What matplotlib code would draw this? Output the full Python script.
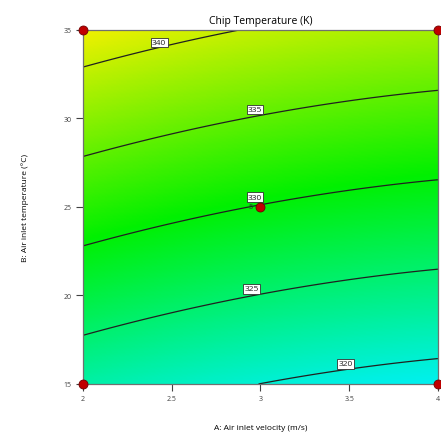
import numpy as np
import matplotlib
matplotlib.use("Agg")
import matplotlib.pyplot as plt
from matplotlib.colors import ListedColormap, Normalize, hsv_to_rgb

# Response surface model: T = c0 + c1*A + c2*A^2 + c3*B
coef = [314.73, -4.55, 0.45, 0.99]
contour_levels = [320, 325, 330, 335, 340]
label_A = [3.48, 2.95, 2.97, 2.97, 2.43]
label_B = [16.13, 20.37, 25.55, 30.5, 34.3]
design_A = [2, 4, 2, 4, 3]
design_B = [15, 15, 35, 35, 25]
center_count = "5"
x_ticks = [2, 2.5, 3, 3.5, 4]
x_tick_labels = ['2', '2.5', '3', '3.5', '4']
y_ticks = [15, 20, 25, 30, 35]

plt.rcParams['font.family'] = ['Open Sans', 'DejaVu Sans']

fig = plt.figure(figsize=(4.41, 4.35), dpi=100)
ax = fig.add_axes([0.188, 0.115, 0.805, 0.814])

A = np.linspace(2, 4, 300)
B = np.linspace(15, 35, 300)
AA, BB = np.meshgrid(A, B)
T = coef[0] + coef[1] * AA + coef[2] * AA**2 + coef[3] * BB

# hue colormap cyan -> green -> yellow
n = 256
h = np.linspace(180, 60, n) / 360.0
hsv = np.stack([h, np.ones(n), np.full(n, 0.94)], axis=1)
cmap = ListedColormap(hsv_to_rgb(hsv))
norm = Normalize(vmin=T.min(), vmax=T.max())

ax.pcolormesh(AA, BB, T, cmap=cmap, norm=norm, shading='auto')
cs = ax.contour(AA, BB, T, levels=contour_levels, colors='#202020', linewidths=0.9)
for lev, la, lb in zip(contour_levels, label_A, label_B):
    ax.text(la, lb, str(lev), fontsize=6, ha='center', va='center', color='#202020', zorder=4,
            bbox=dict(boxstyle='square,pad=0.15', fc='white', ec='#303030', lw=0.6))

ax.scatter(design_A, design_B, s=42, c='#c00000', edgecolors='#700000', linewidths=0.6,
           zorder=5, clip_on=False)
ax.text(design_A[-1] - 0.04, design_B[-1], center_count, fontsize=5.5,
        ha='right', va='center', color='#303030')

ax.set_xlim(2, 4)
ax.set_ylim(15, 35)
ax.set_xticks(x_ticks)
ax.set_xticklabels(x_tick_labels)
ax.set_yticks(y_ticks)
ax.tick_params(direction='out', length=5, width=0.8, labelsize=5, colors='#404040', pad=3)
for s in ax.spines.values():
    s.set_color('#707070')
    s.set_linewidth(0.9)

ax.set_title('Chip Temperature (K)', fontsize=7.5, pad=5)
ax.set_xlabel('A: Air inlet velocity (m/s)', fontsize=6, labelpad=16)
ax.set_ylabel('B: Air inlet temperature (°C)', fontsize=6, labelpad=25)

fig.savefig('out.png', dpi=100)
